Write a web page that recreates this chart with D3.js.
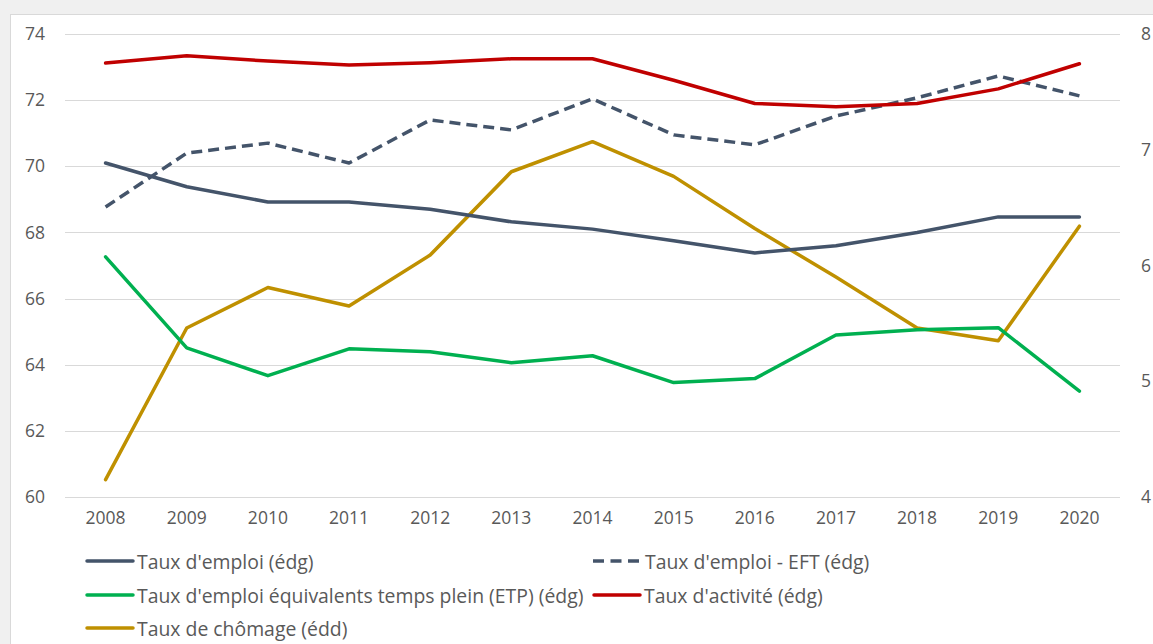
<!DOCTYPE html>
<html>
<head>
<meta charset="utf-8">
<script src="https://cdn.jsdelivr.net/npm/d3@7"></script>
<style>
  body { margin: 0; background: #f0f0f0; }
  svg text { font-family: "Open Sans", sans-serif; fill: #595959; }
</style>
</head>
<body>
<div id="chart"></div>
<script>
// Data
var years = ["2008", "2009", "2010", "2011", "2012", "2013", "2014", "2015", "2016", "2017", "2018", "2019", "2020"];
var tauxEmploi = [70.1, 69.38, 68.92, 68.92, 68.7, 68.32, 68.1, 67.75, 67.38, 67.6, 68.0, 68.47, 68.47];
var tauxEmploiEFT = [68.77, 70.4, 70.7, 70.1, 71.4, 71.1, 72.04, 70.95, 70.65, 71.52, 72.07, 72.73, 72.13];
var tauxETP = [67.26, 64.51, 63.67, 64.48, 64.39, 64.06, 64.27, 63.46, 63.58, 64.9, 65.06, 65.12, 63.2];
var tauxActivite = [73.12, 73.34, 73.18, 73.06, 73.13, 73.25, 73.25, 72.6, 71.9, 71.8, 71.9, 72.34, 73.1];
var tauxChomage = [4.15, 5.46, 5.81, 5.65, 6.09, 6.81, 7.07, 6.77, 6.32, 5.9, 5.46, 5.35, 6.34];
var leftTicks = [60, 62, 64, 66, 68, 70, 72, 74];
var rightTicks = [4, 5, 6, 7, 8];

var svgWidth = 1153;
var svgHeight = 644;
var margin = { top: 34, right: 33, bottom: 147, left: 65 };
var width = svgWidth - margin.left - margin.right;
var height = svgHeight - margin.top - margin.bottom;

var svg = d3.select("#chart")
    .append("svg")
    .attr("width", svgWidth)
    .attr("height", svgHeight);

// white chart panel
svg.append("rect")
    .attr("x", 10.5)
    .attr("y", 14.5)
    .attr("width", svgWidth)
    .attr("height", svgHeight)
    .attr("fill", "white")
    .attr("stroke", "#d9d9d9");

var chartGroup = svg.append("g")
    .attr("transform", `translate(${margin.left}, ${margin.top})`);

var xScale = d3.scaleBand()
    .domain(years)
    .range([0, width]);

var yLeft = d3.scaleLinear().domain([60, 74]).range([height, 0]);
var yRight = d3.scaleLinear().domain([4, 8]).range([height, 0]);

// gridlines
chartGroup.selectAll(".grid")
    .data(leftTicks)
    .enter()
    .append("line")
    .attr("x1", 0)
    .attr("x2", width)
    .attr("y1", d => Math.round(yLeft(d)) + 0.5)
    .attr("y2", d => Math.round(yLeft(d)) + 0.5)
    .attr("stroke", "#d9d9d9")
    .attr("stroke-width", 1);

// left axis
var leftAxis = d3.axisLeft(yLeft).tickValues(leftTicks).tickFormat(d3.format("d")).tickSize(0).tickPadding(20);
var gLeft = chartGroup.append("g").call(leftAxis);
gLeft.select(".domain").remove();
gLeft.selectAll("text").style("font-size", "17.5px");

// right axis
var rightAxis = d3.axisRight(yRight).tickValues(rightTicks).tickFormat(d3.format("d")).tickSize(0).tickPadding(21);
var gRight = chartGroup.append("g")
    .attr("transform", `translate(${width}, 0)`)
    .call(rightAxis);
gRight.select(".domain").remove();
gRight.selectAll("text").style("font-size", "17.5px");

// bottom axis
var bottomAxis = d3.axisBottom(xScale).tickSize(0).tickPadding(15);
var gBottom = chartGroup.append("g")
    .attr("transform", `translate(0, ${height})`)
    .call(bottomAxis);
gBottom.select(".domain").remove();
gBottom.selectAll("text").style("font-size", "17.5px");

var xc = d => xScale(d) + xScale.bandwidth() / 2;

var series = [
    { name: "Taux d'emploi (édg)", values: tauxEmploi, color: "#44546a", dash: null, scale: yLeft },
    { name: "Taux d'emploi - EFT (édg)", values: tauxEmploiEFT, color: "#44546a", dash: "11,6", scale: yLeft },
    { name: "Taux d'emploi équivalents temps plein (ETP) (édg)", values: tauxETP, color: "#00b050", dash: null, scale: yLeft },
    { name: "Taux d'activité (édg)", values: tauxActivite, color: "#c00000", dash: null, scale: yLeft },
    { name: "Taux de chômage (édd)", values: tauxChomage, color: "#bf9000", dash: null, scale: yRight }
];

// draw order: chômage under, then others
var drawOrder = [4, 2, 0, 1, 3];
drawOrder.forEach(i => {
    var s = series[i];
    var line = d3.line()
        .x((d, j) => xc(years[j]))
        .y(d => s.scale(d));
    chartGroup.append("path")
        .datum(s.values)
        .attr("d", line)
        .attr("fill", "none")
        .attr("stroke", s.color)
        .attr("stroke-width", 3.5)
        .attr("stroke-linejoin", "round")
        .attr("stroke-linecap", s.dash ? "butt" : "round")
        .attr("stroke-dasharray", s.dash);
});

// legend
var legendPos = [
    { x: 87, y: 561 },
    { x: 593, y: 561 },
    { x: 87, y: 595 },
    { x: 594, y: 595 },
    { x: 87, y: 628 }
];
var legend = svg.append("g");
series.forEach((s, i) => {
    var p = legendPos[i];
    legend.append("line")
        .attr("x1", p.x)
        .attr("x2", p.x + 46)
        .attr("y1", p.y)
        .attr("y2", p.y)
        .attr("stroke", s.color)
        .attr("stroke-width", 3.5)
        .attr("stroke-linecap", s.dash ? "butt" : "round")
        .attr("stroke-dasharray", s.dash ? "11,6.5" : null);
    legend.append("text")
        .attr("x", p.x + (s.dash ? 52 : 50))
        .attr("y", p.y)
        .attr("dominant-baseline", "central")
        .style("font-size", "19.4px")
        .text(s.name);
});
</script>
</body>
</html>
